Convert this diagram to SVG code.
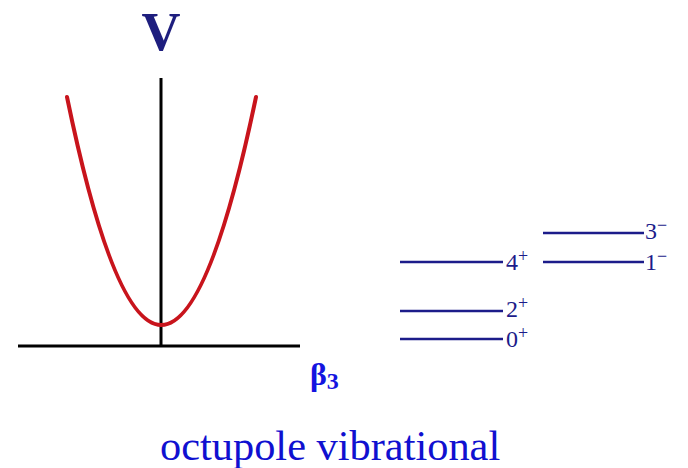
<svg xmlns="http://www.w3.org/2000/svg" width="688" height="468" viewBox="0 0 688 468">
<style>
.axis{stroke:#000;stroke-width:3;fill:none}
.lvl{stroke:#1c1c8a;stroke-width:2.5}
.lab{font-family:"Liberation Serif","Times New Roman",serif;font-size:24px;fill:#1c1c8a}
.sup{font-size:18px}
</style>
<rect width="688" height="468" fill="#fff"/>
<g id="axes">
<line class="axis" x1="161" y1="78" x2="161" y2="346"/>
<line class="axis" x1="18" y1="346" x2="300" y2="346"/>
</g>
<g id="potential">
<path d="M67 97 Q161 553 256 97" fill="none" stroke="#c8141c" stroke-width="4" stroke-linecap="round"/>
</g>
<text id="V" x="161" y="50" text-anchor="middle" font-family="'Liberation Serif','Times New Roman',serif" font-weight="bold" font-size="54" fill="#1e1e7e">V</text>
<text id="beta" x="310" y="385" font-family="'Liberation Serif','Times New Roman',serif" font-weight="bold" font-size="32" fill="#1414e0">β<tspan font-size="24" dy="4">3</tspan></text>
<g id="levels">
<g id="l0"><line class="lvl" x1="400" y1="339" x2="503" y2="339"/><text class="lab" x="506" y="347">0<tspan class="sup" dy="-8">+</tspan></text></g>
<g id="l2"><line class="lvl" x1="400" y1="311" x2="503" y2="311"/><text class="lab" x="506" y="317">2<tspan class="sup" dy="-8">+</tspan></text></g>
<g id="l4"><line class="lvl" x1="400" y1="262" x2="503" y2="262"/><text class="lab" x="506" y="270">4<tspan class="sup" dy="-8">+</tspan></text></g>
<g id="l1"><line class="lvl" x1="543" y1="262" x2="644" y2="262"/><text class="lab" x="645" y="270">1<tspan class="sup" dy="-8">−</tspan></text></g>
<g id="l3"><line class="lvl" x1="543" y1="233" x2="644" y2="233"/><text class="lab" x="645" y="239">3<tspan class="sup" dy="-8">−</tspan></text></g>
</g>
<text id="caption" x="160" y="460" font-family="'Liberation Serif','Times New Roman',serif" font-size="42.4" fill="#1010d0">octupole vibrational</text>
</svg>
